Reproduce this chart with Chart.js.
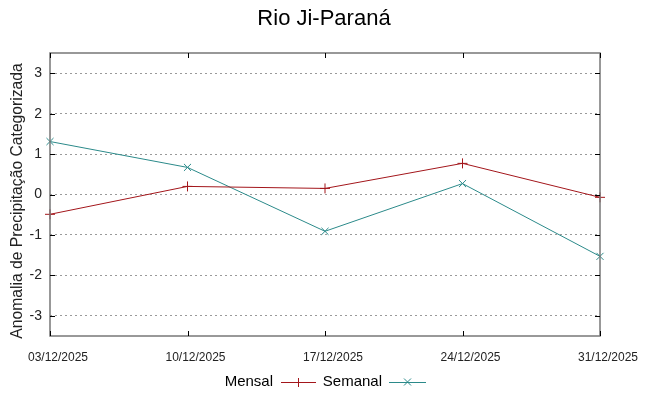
<!DOCTYPE html>
<html>
<head>
<meta charset="utf-8">
<script src="https://cdn.jsdelivr.net/npm/chart.js@4.4.1/dist/chart.umd.min.js"></script>
<style>
  html, body { margin: 0; padding: 0; background: #fff; }
  #wrap { width: 648px; height: 396px; }
</style>
</head>
<body>
<div id="wrap"><canvas id="chart" width="648" height="396"></canvas></div>
<script>
// chart data
const titleText = 'Rio Ji-Paraná';
const yTitle = 'Anomalia de Precipitação Categorizada';
const dates = ['03/12/2025', '10/12/2025', '17/12/2025', '24/12/2025', '31/12/2025'];
const mensal = [-0.49, 0.20, 0.15, 0.77, -0.07];
const semanal = [1.31, 0.67, -0.91, 0.27, -1.53];
const yTicks = [-3, -2, -1, 0, 1, 2, 3];

const redColor = '#a3161b';
const tealColor = '#2b8a8a';

// border, inward ticks, titles and legend (gnuplot look)
const framePlugin = {
    id: 'frame',
    afterDraw(chart) {
        const ctx = chart.ctx;
        const a = chart.chartArea;
        const xs = chart.scales.x;
        const ys = chart.scales.y;
        ctx.save();
        ctx.strokeStyle = '#777';
        ctx.lineWidth = 1.5;
        ctx.strokeRect(a.left, a.top, a.right - a.left, a.bottom - a.top);

        ctx.strokeStyle = '#000';
        ctx.lineWidth = 1;
        yTicks.forEach(v => {
            const y = Math.round(ys.getPixelForValue(v)) + 0.5;
            ctx.beginPath();
            ctx.moveTo(a.left, y); ctx.lineTo(a.left + 5, y);
            ctx.moveTo(a.right, y); ctx.lineTo(a.right - 5, y);
            ctx.stroke();
        });
        dates.forEach((d, i) => {
            const x = Math.round(xs.getPixelForValue(i)) + 0.5;
            ctx.beginPath();
            ctx.moveTo(x, a.bottom); ctx.lineTo(x, a.bottom - 5);
            ctx.moveTo(x, a.top); ctx.lineTo(x, a.top + 5);
            ctx.stroke();
        });

        // title
        ctx.fillStyle = '#000';
        ctx.font = '22px "Liberation Sans", Arial, sans-serif';
        ctx.textAlign = 'center';
        ctx.textBaseline = 'middle';
        ctx.fillText(titleText, 324, 19);

        // y axis title
        ctx.save();
        ctx.translate(18, 201);
        ctx.rotate(-Math.PI / 2);
        ctx.fillStyle = '#222';
        ctx.font = '15.7px "Liberation Sans", Arial, sans-serif';
        ctx.fillText(yTitle, 0, 0);
        ctx.restore();

        // legend: text then line sample
        const ly = 382;
        ctx.font = '15px "Liberation Sans", Arial, sans-serif';
        ctx.textAlign = 'right';
        const items = [
            { label: 'Mensal', color: redColor, tx: 273, x0: 281, x1: 316 },
            { label: 'Semanal', color: tealColor, tx: 382, x0: 389, x1: 426 }
        ];
        items.forEach((it, k) => {
            ctx.fillStyle = '#000';
            ctx.fillText(it.label, it.tx, ly);
            ctx.strokeStyle = it.color;
            ctx.lineWidth = 1;
            ctx.beginPath();
            ctx.moveTo(it.x0, ly + 0.5); ctx.lineTo(it.x1, ly + 0.5);
            const cx = (it.x0 + it.x1) / 2;
            if (k === 0) {
                ctx.moveTo(cx, ly - 4); ctx.lineTo(cx, ly + 5);
            } else {
                ctx.moveTo(cx - 3.5, ly - 3.5); ctx.lineTo(cx + 3.5, ly + 3.5);
                ctx.moveTo(cx - 3.5, ly + 3.5); ctx.lineTo(cx + 3.5, ly - 3.5);
            }
            ctx.stroke();
        });
        ctx.restore();
    }
};

const ctx = document.getElementById('chart').getContext('2d');
new Chart(ctx, {
    type: 'line',
    data: {
        labels: dates,
        datasets: [{
            label: 'Mensal',
            data: mensal,
            borderColor: redColor,
            backgroundColor: redColor,
            borderWidth: 1,
            pointStyle: 'cross',
            pointRadius: 5,
            pointBorderWidth: 1,
            tension: 0,
            clip: false
        }, {
            label: 'Semanal',
            data: semanal,
            borderColor: tealColor,
            backgroundColor: tealColor,
            borderWidth: 1,
            pointStyle: 'crossRot',
            pointRadius: 5,
            pointBorderWidth: 1,
            tension: 0,
            clip: false
        }]
    },
    options: {
        responsive: false,
        animation: false,
        layout: { padding: { top: 53, right: 48, left: 0, bottom: 0 } },
        plugins: {
            legend: { display: false },
            title: { display: false },
            tooltip: { enabled: false }
        },
        scales: {
            x: {
                type: 'category',
                offset: false,
                grid: { display: false, drawTicks: false },
                border: { display: false },
                ticks: {
                    color: '#222',
                    padding: 14,
                    labelOffset: 8,
                    maxRotation: 0,
                    autoSkip: false,
                    font: { family: '"Liberation Sans Narrow", "Liberation Sans", sans-serif', size: 12 }
                },
                afterFit(scale) { scale.height = 60; }
            },
            y: {
                min: -3.5,
                max: 3.5,
                afterBuildTicks(scale) {
                    scale.ticks = yTicks.map(v => ({ value: v }));
                },
                grid: {
                    color: '#9a9a9a',
                    lineWidth: 1,
                    drawTicks: false
                },
                border: { display: false, dash: [2, 3] },
                ticks: {
                    color: '#222',
                    padding: 8,
                    font: { family: '"Liberation Sans", Arial, sans-serif', size: 14 }
                },
                afterFit(scale) { scale.width = 50; }
            }
        }
    },
    plugins: [framePlugin]
});
</script>
</body>
</html>
